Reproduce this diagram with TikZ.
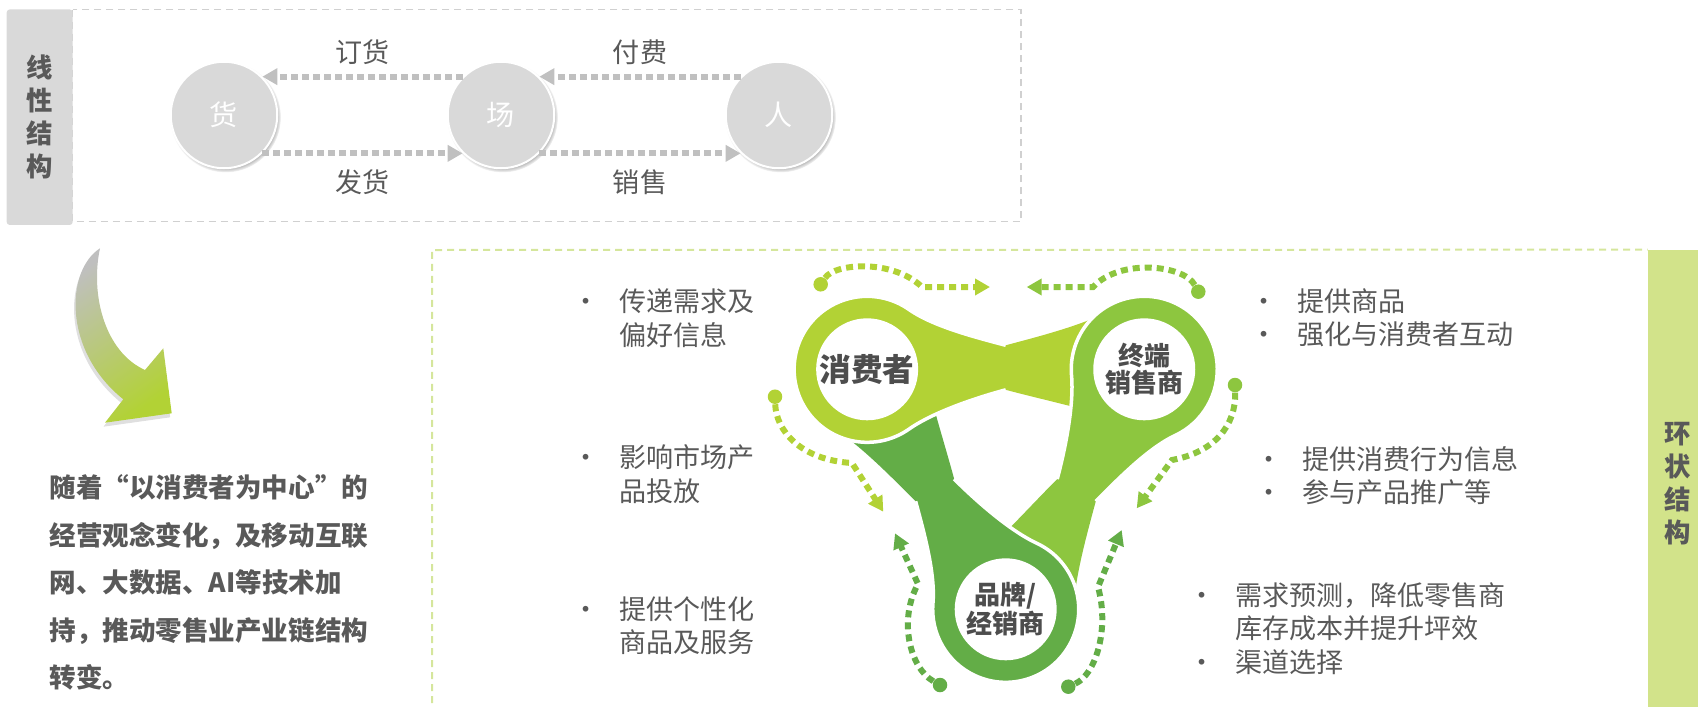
\documentclass[tikz,border=0pt]{standalone}
\usepackage{fontspec}
\setmainfont{Noto Sans CJK SC}
\usetikzlibrary{arrows.meta,shadows,positioning}
\definecolor{spotgrey}{HTML}{D9D9D9}
\definecolor{flowgrey}{HTML}{C0C0C0}
\definecolor{boxgrey}{HTML}{D0D0D0}
\definecolor{txt}{HTML}{595959}
\definecolor{hubtxt}{HTML}{4D4D4D}
\definecolor{ringA}{HTML}{B2D235}
\definecolor{ringB}{HTML}{8DC63F}
\definecolor{ringC}{HTML}{63AD47}
\definecolor{sidegreen}{HTML}{D2E38A}
\definecolor{dashgreen}{HTML}{D5E69C}
\newcommand{\itemdot}{\llap{\makebox[0pt][c]{•}\hspace{0.66cm}}}

\begin{document}
\begin{tikzpicture}[font=\fontsize{15.4}{19}\selectfont, text=txt,
    sidebar/.style={fill=#1, align=center, inner sep=0, font=\fontsize{15}{18.8}\selectfont\bfseries},
    spot/.style={circle, fill=spotgrey, draw=white, line width=0.04cm, minimum size=2.13cm, inner sep=0,
      text=white, font=\fontsize{16}{16}\selectfont,
      circular drop shadow={shadow xshift=0.03cm, shadow yshift=-0.04cm, shadow scale=1.04}},
    flow/.style={draw=flowgrey, line width=0.12cm, dash pattern=on 0.13cm off 0.09cm,
      -{Triangle[length=0.3cm, width=0.32cm]}},
    hub/.style={circle, fill=white, minimum size=2.04cm, inner sep=0, align=center, text=hubtxt,
      font=\fontsize{14.8}{15.4}\selectfont\bfseries},
    dot/.style={circle, fill=#1, minimum size=0.29cm, inner sep=0},
    cyc/.style={draw=#1, line width=0.12cm, dash pattern=on 0.14cm off 0.1cm,
      -{Triangle[length=0.3cm, width=0.32cm]}},
    note/.style={anchor=west, align=left, inner sep=0}]
  \useasboundingbox (0,0) rectangle (33.96,-14.14);

  % linear chain
  \draw[boxgrey, line width=0.03cm, dash pattern=on 0.14cm off 0.1cm] (1.454,-0.192) rectangle (20.42,-4.434);
  \node[sidebar=spotgrey, rounded corners=0.06cm, minimum width=1.32cm, minimum height=4.31cm] (linear) at (0.794,-2.344) {线\\性\\结\\构};
  \node[spot] (goods) at (4.48,-2.30) {货};
  \node[spot] (venue) at (10.02,-2.30) {场};
  \node[spot] (people) at (15.58,-2.30) {人};
  \draw[flow] (venue.135) -- node[above=2pt] {订货} (goods.45);
  \draw[flow] (people.135) -- node[above=2pt] {付费} (venue.45);
  \draw[flow] (goods.-45) -- node[below=4pt] {发货} (venue.-135);
  \draw[flow] (venue.-45) -- node[below=4pt] {销售} (people.-135);

  % cyclic part frame
  \node[sidebar=sidegreen, minimum width=1.2cm, minimum height=9.34cm] (cyclic) at (33.56,-9.67) {环\\状\\结\\构};
  \draw[dashgreen, line width=0.04cm, dash pattern=on 0.14cm off 0.1cm] (8.64,-14.3) -- (8.64,-5.0) -- (cyclic.north west);

  % turn arrow
  \shade[top color=gray!50, bottom color=ringA, shading angle=35,
      drop shadow={opacity=0.25, shadow xshift=-0.03cm, shadow yshift=-0.08cm}]
    (2.0,-4.966) .. controls (1.32,-5.40) and (1.24,-7.0) .. (2.466,-7.986)
    -- (2.10,-8.454) -- (3.434,-8.266) -- (3.266,-6.966) -- (2.90,-7.40)
    .. controls (2.10,-7.04) and (1.80,-5.90) .. (2.0,-4.966) -- cycle;
  \node[note, font=\fontsize{15.1}{27}\selectfont\bfseries] (shift) at (0.986,-11.65)
    {随着“以消费者为中心”的\\经营观念变化，及移动互联\\网、大数据、AI等技术加\\持，推动零售业产业链结构\\转变。};

  % three rings, each with its link to the next one
  \begin{scope}[shift={(20.114,-8.986)}]
    \foreach \rot/\col in {0/ringA, -120/ringB, -240/ringC}
      \fill[\col, rotate=\rot] (-0.1,2.053) -- (0,2.08) .. controls (0.6,2.24) and (1.3,2.42) .. (1.85,2.66)
        -- (1.9,0.7) .. controls (1.2,0.9) and (0.6,1.03) .. (0,1.19) -- (-0.1,1.22) -- cycle;
    \foreach \rot/\col in {0/ringA, -120/ringB, -240/ringC} {
      \begin{scope}[rotate=\rot]
        \fill[\col] (-1.934,0.404) arc[start angle=-55, end angle=-305, radius=1.46]
          .. controls (-1.443,2.452) and (-0.580,2.235) .. (0,2.08) -- (0,1.19)
          .. controls (-0.580,1.035) and (-1.443,0.748) .. (-1.934,0.404) -- cycle;
        \draw[white, line width=0.07cm] (0,1.19) .. controls (-0.580,1.035) and (-1.443,0.748) .. (-1.934,0.404)
          arc[start angle=-55, end angle=-305, radius=1.46] .. controls (-1.443,2.452) and (-0.580,2.235) .. (0,2.08);
      \end{scope}
    }
  \end{scope}
  \node[hub, font=\fontsize{18}{18}\selectfont\bfseries] (consumer) at (17.343,-7.386) {消费者};
  \node[hub] (retailer) at (22.885,-7.386) {终端\\销售商};
  \node[hub] (brand) at (20.114,-12.186) {品牌/\\经销商};

  % dotted flows around the rings
  \node[dot=ringA] (c1) at (16.414,-5.686) {};
  \node[dot=ringB] (r1) at (23.966,-5.834) {};
  \node[dot=ringB] (r2) at (24.70,-7.70) {};
  \node[dot=ringC] (b1) at (21.366,-13.734) {};
  \node[dot=ringC] (b2) at (18.80,-13.70) {};
  \node[dot=ringA] (c2) at (15.50,-7.934) {};
  \coordinate (c1e) at (19.80,-5.74);
  \coordinate (r1e) at (20.534,-5.74);
  \coordinate (r2e) at (22.734,-10.166);
  \coordinate (b1e) at (22.434,-10.60);
  \coordinate (b2e) at (17.90,-10.666);
  \coordinate (c2e) at (17.666,-10.234);
  \draw[cyc=ringA] (c1) .. controls (16.70,-5.26) and (17.86,-5.18) .. (18.44,-5.74) -- (c1e);
  \draw[cyc=ringB] (r1) .. controls (23.68,-5.30) and (22.40,-5.16) .. (21.86,-5.74) -- (r1e);
  \draw[cyc=ringB] (r2) .. controls (24.72,-8.50) and (24.30,-9.04) .. (23.44,-9.20) -- (r2e);
  \draw[cyc=ringC] (b1) .. controls (21.90,-13.50) and (22.20,-12.60) .. (21.96,-11.74) -- (b1e);
  \draw[cyc=ringC] (b2) .. controls (18.20,-13.36) and (17.96,-12.40) .. (18.36,-11.68) -- (b2e);
  \draw[cyc=ringA] (c2) .. controls (15.52,-8.60) and (16.00,-9.20) .. (17.04,-9.26) -- (c2e);

  % roles
  \node[note] (need) at (12.38,-6.365) {\itemdot 传递需求及\\偏好信息};
  \node[note] (sway) at (12.38,-9.48) {\itemdot 影响市场产\\品投放};
  \node[note] (offer) at (12.38,-12.52) {\itemdot 提供个性化\\商品及服务};
  \node[note] (supply) at (25.94,-6.35) {\itemdot 提供商品\\\itemdot 强化与消费者互动};
  \node[note] (insight) at (26.04,-9.51) {\itemdot 提供消费行为信息\\\itemdot 参与产品推广等};
  \node[note] (plan) at (24.70,-12.567) {\itemdot 需求预测，降低零售商\\库存成本并提升坪效\\\itemdot 渠道选择};
\end{tikzpicture}
\end{document}
